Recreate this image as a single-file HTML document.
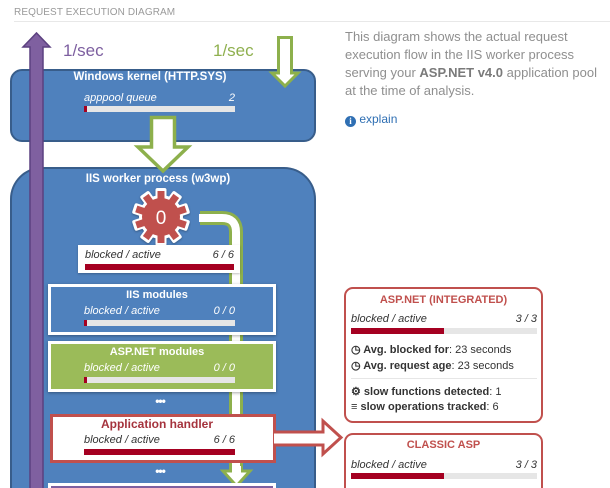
<!DOCTYPE html>
<html><head><meta charset="utf-8">
<style>
*{margin:0;padding:0;box-sizing:border-box}
html,body{width:610px;height:488px;overflow:hidden;background:#fff;font-family:"Liberation Sans",sans-serif}
#root{position:relative;width:610px;height:488px;overflow:hidden}
.a{position:absolute}
.t{position:absolute;white-space:nowrap}
.bar{position:absolute;height:6px;background:#e6e6e6}
.bar i{position:absolute;left:0;top:0;bottom:0;background:#a50021}
.ital{font-style:italic;font-size:11px}
.bt{font-weight:bold;font-size:11px;text-align:center}
</style></head><body><div id="root">

<div class="t" style="left:14px;top:7px;font-size:10px;color:#9a9a9a;letter-spacing:0.1px">REQUEST EXECUTION DIAGRAM</div>
<div class="a" style="left:14px;top:21px;width:596px;height:1px;background:#e8e8e8"></div>

<div class="t" style="left:63px;top:41px;font-size:17px;color:#7d5fa0">1/sec</div>
<div class="t" style="left:213px;top:41px;font-size:17px;color:#8fb04f">1/sec</div>

<!-- kernel box -->
<div class="a" style="left:10px;top:69px;width:306px;height:73px;background:#4f81bd;border:2px solid #385d8a;border-radius:12px"></div>
<div class="t bt" style="left:60px;top:70px;width:180px;color:#fff;line-height:14px;font-size:11.5px">Windows kernel (HTTP.SYS)</div>
<div class="t ital" style="left:84px;top:92px;color:#fff">apppool queue</div>
<div class="t ital" style="left:200px;top:92px;width:35px;text-align:right;color:#fff">2</div>
<div class="bar" style="left:84px;top:106px;width:151px"><i style="width:3px"></i></div>

<!-- worker box -->
<div class="a" style="left:10px;top:167px;width:306px;height:321px;background:#4f81bd;border:2px solid #385d8a;border-bottom:none;border-radius:32px 32px 0 0"></div>
<div class="t bt" style="left:68px;top:172px;width:180px;color:#fff;line-height:14px;font-size:11.5px">IIS worker process (w3wp)</div>

<!-- pipe -->
<svg class="a" style="left:0;top:0" width="610" height="488">
<path d="M200 218 H222 Q236 218 236 232 V472" fill="none" stroke="#8db04c" stroke-width="14"/>
<path d="M199 218 H222 Q236 218 236 232 V473" fill="none" stroke="#fff" stroke-width="8"/>
<polygon points="223,471 250,471 236.5,486" fill="#fff" stroke="#8db04c" stroke-width="3"/>
<rect x="232" y="466" width="9" height="7" fill="#fff"/>
</svg>

<!-- gear -->
<svg class="a" style="left:131px;top:187px" width="60" height="60" viewBox="-30 -30 60 60">
<g fill="#fff" style="filter:drop-shadow(0 1px 1px rgba(0,0,0,.3))">
<circle r="22"/>
<g id="tw">
<rect x="-5.5" y="-29" width="11" height="12" rx="2"/>
</g>
<use href="#tw" transform="rotate(36)"/><use href="#tw" transform="rotate(72)"/><use href="#tw" transform="rotate(108)"/><use href="#tw" transform="rotate(144)"/><use href="#tw" transform="rotate(180)"/><use href="#tw" transform="rotate(216)"/><use href="#tw" transform="rotate(252)"/><use href="#tw" transform="rotate(288)"/><use href="#tw" transform="rotate(324)"/>
</g>
<g fill="#c0504d">
<circle r="19"/>
<g id="tr"><rect x="-3.5" y="-26" width="7" height="10"/></g>
<use href="#tr" transform="rotate(36)"/><use href="#tr" transform="rotate(72)"/><use href="#tr" transform="rotate(108)"/><use href="#tr" transform="rotate(144)"/><use href="#tr" transform="rotate(180)"/><use href="#tr" transform="rotate(216)"/><use href="#tr" transform="rotate(252)"/><use href="#tr" transform="rotate(288)"/><use href="#tr" transform="rotate(324)"/>
</g>
<text x="0" y="7" text-anchor="middle" font-family="Liberation Sans" font-size="19" fill="#fff">0</text>
</svg>

<!-- blocked box -->
<div class="a" style="left:78px;top:245px;width:162px;height:28px;background:#fff;box-shadow:0 1px 2px rgba(0,0,0,.25)"></div>
<div class="t ital" style="left:85px;top:249px;color:#333">blocked / active</div>
<div class="t ital" style="left:190px;top:249px;width:44px;text-align:right;color:#333">6 / 6</div>
<div class="bar" style="left:85px;top:264px;width:149px"><i style="width:100%"></i></div>

<!-- IIS modules -->
<div class="a" style="left:48px;top:284px;width:228px;height:51px;background:#4f81bd;border:3px solid #fff;box-shadow:0 1px 3px rgba(0,0,0,.35)"></div>
<div class="t bt" style="left:72px;top:288px;width:170px;color:#fff;line-height:14px">IIS modules</div>
<div class="t ital" style="left:84px;top:305px;color:#fff">blocked / active</div>
<div class="t ital" style="left:190px;top:305px;width:45px;text-align:right;color:#fff">0 / 0</div>
<div class="bar" style="left:84px;top:320px;width:151px"><i style="width:3px"></i></div>

<!-- ASP.NET modules -->
<div class="a" style="left:48px;top:341px;width:228px;height:51px;background:#9bbb59;border:3px solid #fff;box-shadow:0 1px 3px rgba(0,0,0,.35)"></div>
<div class="t bt" style="left:72px;top:345px;width:170px;color:#fff;line-height:14px">ASP.NET modules</div>
<div class="t ital" style="left:84px;top:362px;color:#fff">blocked / active</div>
<div class="t ital" style="left:190px;top:362px;width:45px;text-align:right;color:#fff">0 / 0</div>
<div class="bar" style="left:84px;top:377px;width:151px"><i style="width:3px"></i></div>

<div class="t" style="left:150px;top:394px;width:20px;text-align:center;color:#fff;font-weight:bold;font-size:12px;letter-spacing:-1px">•••</div>

<!-- App handler -->
<div class="a" style="left:50px;top:414px;width:226px;height:49px;background:#fff;border:3px solid #c0504d"></div>
<div class="t bt" style="left:72px;top:417px;width:170px;color:#a5333d;font-size:12px;line-height:14px">Application handler</div>
<div class="t ital" style="left:84px;top:434px;color:#333">blocked / active</div>
<div class="t ital" style="left:190px;top:434px;width:45px;text-align:right;color:#333">6 / 6</div>
<div class="bar" style="left:84px;top:449px;width:151px"><i style="width:100%"></i></div>

<div class="t" style="left:150px;top:465px;width:20px;text-align:center;color:#fff;font-weight:bold;font-size:12px;letter-spacing:-1px;line-height:12px">•••</div>

<!-- bottom box -->
<div class="a" style="left:48px;top:483px;width:228px;height:5px;background:#7e60a0;border:3px solid #fff;border-bottom:none"></div>

<!-- arrows -->
<svg class="a" style="left:0;top:0" width="610" height="488">
<polygon points="30,489 30,47 23,47 36.5,33 50,47 43,47 43,489" fill="#7f60a0" stroke="#5c4180" stroke-width="1.5"/>
<polygon points="278.5,37.5 291.5,37.5 291.5,73 298,73 285,86 272,73 278.5,73" fill="#fff" stroke="#8db04c" stroke-width="3"/>
<polygon points="151.5,117.5 174.5,117.5 174.5,147 188,147 163,171 138,147 151.5,147" fill="#fff" stroke="#8db04c" stroke-width="3.5"/>
<polygon points="276,432 323,432 323,421 341,437.5 323,454 323,445 276,445" fill="#fff" stroke="#c0504d" stroke-width="3"/>
<rect x="274" y="433.5" width="4" height="10" fill="#fff"/>
</svg>

<!-- right text -->
<div class="a" style="left:345px;top:28px;width:265px;font-size:13px;line-height:18px;color:#8f8f8f">This diagram shows the actual request<br>execution flow in the IIS worker process<br>serving your <b style="color:#7a7a7a">ASP.NET v4.0</b> application pool<br>at the time of analysis.</div>
<div class="t" style="left:345px;top:112px;font-size:12px;color:#2f6fb3"><span style="display:inline-block;width:11px;height:11px;border-radius:6px;background:#2f6fb3;color:#fff;font-size:9px;font-weight:bold;text-align:center;line-height:11px;vertical-align:-1px;font-family:'Liberation Serif',serif">i</span> explain</div>

<!-- ASP.NET integrated -->
<div class="a" style="left:344px;top:287px;width:199px;height:136px;border:2px solid #c0504d;border-radius:9px;background:#fff"></div>
<div class="t bt" style="left:344px;top:293px;width:199px;color:#c0504d;line-height:14px">ASP.NET (INTEGRATED)</div>
<div class="t ital" style="left:351px;top:313px;color:#333">blocked / active</div>
<div class="t ital" style="left:490px;top:313px;width:47px;text-align:right;color:#333">3 / 3</div>
<div class="bar" style="left:351px;top:328px;width:186px"><i style="width:50%"></i></div>
<div class="t" style="left:351px;top:343px;font-size:11px;color:#333"><b>&#9719; Avg. blocked for</b>: 23 seconds</div>
<div class="t" style="left:351px;top:359px;font-size:11px;color:#333"><b>&#9719; Avg. request age</b>: 23 seconds</div>
<div class="a" style="left:351px;top:378px;width:186px;height:1px;background:#e6e6e6"></div>
<div class="t" style="left:351px;top:385px;font-size:11px;color:#333"><b>&#9881; slow functions detected</b>: 1</div>
<div class="t" style="left:351px;top:401px;font-size:11px;color:#333"><b>&#8801; slow operations tracked</b>: 6</div>

<!-- Classic ASP -->
<div class="a" style="left:344px;top:433px;width:199px;height:55px;border:2px solid #c0504d;border-bottom:none;border-radius:9px 9px 0 0;background:#fff"></div>
<div class="t bt" style="left:344px;top:438px;width:199px;color:#c0504d;line-height:14px">CLASSIC ASP</div>
<div class="t ital" style="left:351px;top:459px;color:#333">blocked / active</div>
<div class="t ital" style="left:490px;top:459px;width:47px;text-align:right;color:#333">3 / 3</div>
<div class="bar" style="left:351px;top:473px;width:186px"><i style="width:50%"></i></div>

</div></body></html>
